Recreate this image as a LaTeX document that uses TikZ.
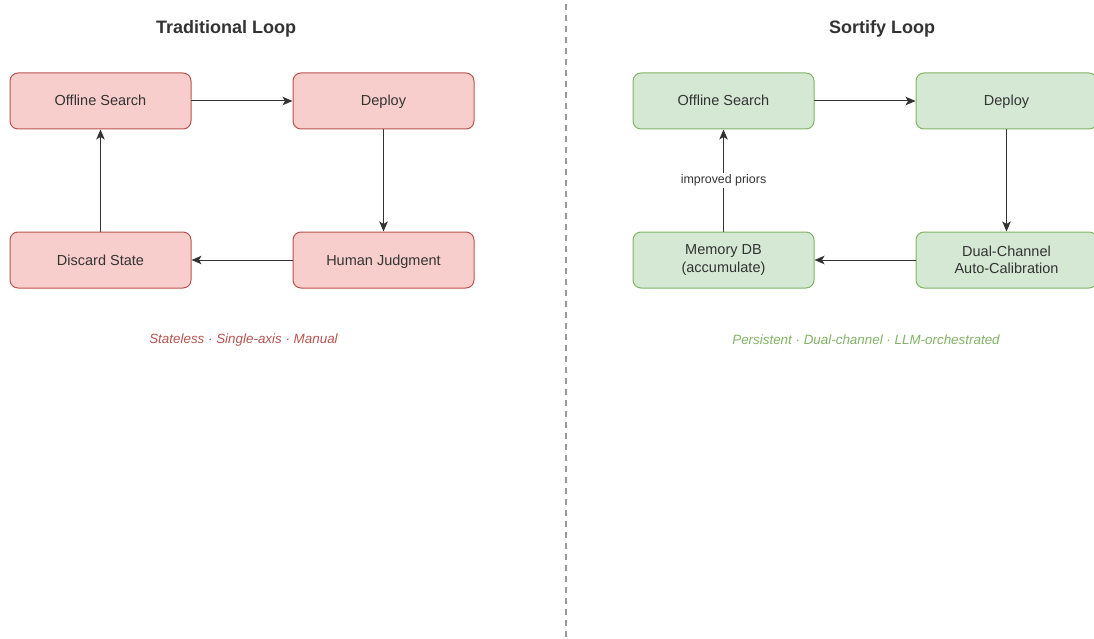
\documentclass[tikz,border=0pt]{standalone}
\usepackage{fontspec}
\setmainfont{Liberation Sans}
\usetikzlibrary{arrows,arrows.meta}

\definecolor{redfill}{HTML}{F8CECC}
\definecolor{redline}{HTML}{B85450}
\definecolor{greenfill}{HTML}{D5E8D4}
\definecolor{greenline}{HTML}{82B366}
\definecolor{ink}{HTML}{333333}

\tikzset{
	oldbox/.style={draw=redline, fill=redfill, line width=1pt, rounded corners=8pt,
		minimum width=181pt, minimum height=56pt, align=center, text=ink,
		font=\fontsize{14.5}{17.5}\selectfont},
	newbox/.style={oldbox, draw=greenline, fill=greenfill},
	oneline/.style={text height=10.5pt, text depth=0.5pt},
	flow/.style={-{Stealth[length=10pt,width=8.5pt,inset=2.5pt]}, draw=ink, line width=1pt},
	heading/.style={font=\fontsize{18}{21}\selectfont\bfseries, text=ink},
	tagline/.style={font=\fontsize{13.4}{16}\selectfont\itshape},
}

\begin{document}
\begin{tikzpicture}[line cap=round,line join=round,>=triangle 45,x=1pt,y=-1pt]
			\useasboundingbox (0,0) rectangle (1094,639);
			% separator
			\draw[color=ink!50, line width=2pt, line cap=butt, dash pattern=on 6pt off 5pt] (566,4)-- (566,639);
			% traditional loop
			\node[heading] (tradtitle) at (226,29) {Traditional Loop};
			\node[oldbox,oneline] (tsearch) at (100.5,101) {Offline Search};
			\node[oldbox,oneline] (tdeploy) at (383.5,101) {Deploy};
			\node[oldbox,oneline] (thuman) at (383.5,260) {Human Judgment};
			\node[oldbox,oneline] (tdiscard) at (100.5,260) {Discard State};
			\draw[flow] (tsearch)-- (tdeploy);
			\draw[flow] (tdeploy)-- (thuman);
			\draw[flow] (thuman)-- (tdiscard);
			\draw[flow] (tdiscard)-- (tsearch);
			\node[tagline, text=redline] (tradtag) at (243.5,340) {Stateless · Single-axis · Manual};
			% sortify loop
			\node[heading] (sorttitle) at (882,29) {Sortify Loop};
			\node[newbox,oneline] (ssearch) at (723.5,101) {Offline Search};
			\node[newbox,oneline] (sdeploy) at (1006.5,101) {Deploy};
			\node[newbox] (scalib) at (1006.5,260) {Dual-Channel\\Auto-Calibration};
			\node[newbox] (smemory) at (723.5,260) {Memory DB\\(accumulate)};
			\draw[flow] (ssearch)-- (sdeploy);
			\draw[flow] (sdeploy)-- (scalib);
			\draw[flow] (scalib)-- (smemory);
			\draw[flow] (smemory)-- node[fill=white, text=ink, inner sep=2pt, font=\fontsize{12.4}{15}\selectfont] {improved priors} (ssearch);
			\node[tagline, text=greenline] (sorttag) at (866,340) {Persistent · Dual-channel · LLM-orchestrated};
\end{tikzpicture}
\end{document}
